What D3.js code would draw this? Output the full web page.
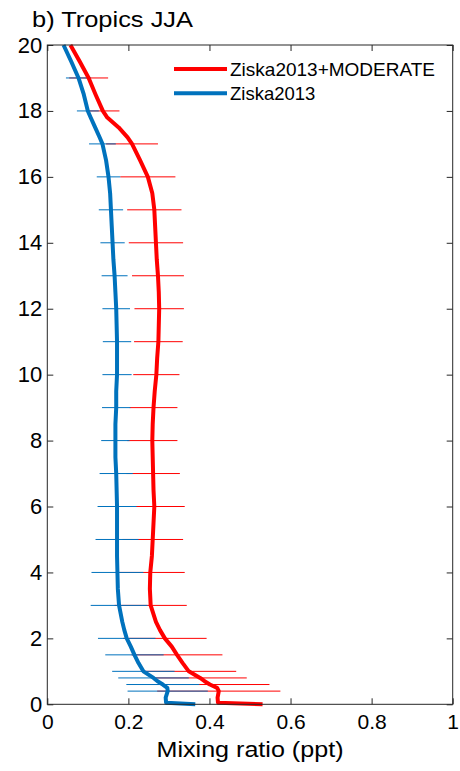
<!DOCTYPE html>
<html><head><meta charset="utf-8">
<script src="https://cdn.jsdelivr.net/npm/d3@7"></script>
<style>
body{margin:0;background:#fff}
text{font-family:"Liberation Sans",Arial,Helvetica,sans-serif;fill:#000}
</style>
</head><body>
<svg id="c" width="460" height="771"></svg>
<script>
// Altitude grid (km)
const altitudes = [0, 0.05, 0.2, 0.4, 0.5, 0.6, 0.7, 0.8, 1.0, 1.25, 1.5, 1.75, 2.0, 2.25, 2.5, 3.0, 3.5, 4.0, 4.5, 5.0, 5.5, 6.0, 6.5, 7.0, 7.5, 8.0, 8.5, 9.0, 9.5, 10, 10.5, 11, 11.5, 12, 12.5, 13, 13.5, 14, 14.5, 15, 15.5, 16, 16.5, 17, 17.2, 17.5, 17.8, 18, 18.5, 19, 19.5, 20];
// Ziska2013+MODERATE mixing ratio (ppt)
const moderate = [0.531, 0.421, 0.420, 0.423, 0.419, 0.401, 0.388, 0.377, 0.349, 0.334, 0.320, 0.307, 0.290, 0.278, 0.268, 0.255, 0.253, 0.254, 0.258, 0.260, 0.262, 0.264, 0.262, 0.261, 0.260, 0.259, 0.260, 0.262, 0.265, 0.269, 0.271, 0.274, 0.275, 0.276, 0.275, 0.273, 0.270, 0.268, 0.266, 0.264, 0.259, 0.248, 0.229, 0.209, 0.198, 0.176, 0.148, 0.137, 0.119, 0.102, 0.080, 0.057];
// Ziska2013 mixing ratio (ppt)
const ziska = [0.365, 0.293, 0.292, 0.297, 0.296, 0.285, 0.272, 0.262, 0.237, 0.225, 0.215, 0.206, 0.196, 0.190, 0.185, 0.177, 0.174, 0.173, 0.172, 0.172, 0.172, 0.172, 0.171, 0.170, 0.168, 0.168, 0.168, 0.170, 0.170, 0.172, 0.172, 0.172, 0.171, 0.170, 0.168, 0.166, 0.163, 0.161, 0.159, 0.157, 0.155, 0.151, 0.145, 0.136, 0.129, 0.118, 0.107, 0.100, 0.090, 0.077, 0.059, 0.040];
// Error bar levels (km) and half-widths (ppt)
const barLevels = [19, 18, 17, 16, 15, 14, 13, 12, 11, 10, 9, 8, 7, 6, 5, 4, 3, 2, 1.5, 1, 0.8, 0.6, 0.4];
const moderateErr = [0.048, 0.041, 0.064, 0.068, 0.067, 0.067, 0.064, 0.061, 0.060, 0.057, 0.059, 0.062, 0.066, 0.075, 0.075, 0.085, 0.089, 0.103, 0.112, 0.117, 0.115, 0.147, 0.152];
const ziskaErr = [0.031, 0.027, 0.033, 0.029, 0.030, 0.030, 0.032, 0.034, 0.035, 0.036, 0.035, 0.035, 0.041, 0.048, 0.053, 0.064, 0.070, 0.071, 0.072, 0.077, 0.087, 0.090, 0.099];
const xTicks = [0, 0.2, 0.4, 0.6, 0.8, 1];
const xTickLabels = ["0", "0.2", "0.4", "0.6", "0.8", "1"];
const yTicks = [0, 2, 4, 6, 8, 10, 12, 14, 16, 18, 20];
const seriesNames = ["Ziska2013+MODERATE", "Ziska2013"];
const seriesColors = ["#ff0000", "#0072bd"];

const svg = d3.select("#c");
const x = d3.scaleLinear().domain([0, 1]).range([47.3, 452.7]);
const y = d3.scaleLinear().domain([0, 20]).range([704.3, 45]);

// error bars: red first, blue on top
function drawBars(vals, errs, color) {
  const rows = barLevels.map((lv, i) => {
    const idx = altitudes.indexOf(lv);
    return {lv, c: vals[idx], e: errs[i]};
  });
  svg.append("g").selectAll("line").data(rows).join("line")
    .attr("x1", d => x(d.c - d.e)).attr("x2", d => x(d.c + d.e))
    .attr("y1", d => y(d.lv)).attr("y2", d => y(d.lv))
    .attr("stroke", color).attr("stroke-width", 1);
}
drawBars(moderate, moderateErr, seriesColors[0]);
drawBars(ziska, ziskaErr, seriesColors[1]);

const line = d3.line().x(d => x(d[0])).y(d => y(d[1]));
[moderate, ziska].forEach((vals, k) => {
  svg.append("path").datum(altitudes.map((a, i) => [vals[i], a]))
    .attr("d", line).attr("fill", "none")
    .attr("stroke", seriesColors[k]).attr("stroke-width", 4)
    .attr("stroke-linejoin", "round");
});

// axes (ticks inward, box)
const axColor = "#262626";
function styleAxis(g, fs) {
  g.select(".domain").remove();
  g.selectAll(".tick line").attr("stroke", axColor);
  g.selectAll(".tick text").style("font-size", fs + "px").attr("fill", "#000")
    .style("font-family", '"Liberation Sans", Arial, sans-serif');
}
svg.append("g").attr("transform", `translate(0,${y(0)})`)
  .call(d3.axisBottom(x).tickValues(xTicks).tickFormat((d, i) => xTickLabels[i]).tickSize(-6).tickPadding(10))
  .call(g => styleAxis(g, 21));
svg.append("g").attr("transform", `translate(0,${y(20)})`)
  .call(d3.axisTop(x).tickValues(xTicks).tickFormat("").tickSize(-6))
  .call(g => styleAxis(g, 21));
svg.append("g").attr("transform", `translate(${x(0)},0)`)
  .call(d3.axisLeft(y).tickValues(yTicks).tickSize(-6).tickPadding(5))
  .call(g => styleAxis(g, 22));
svg.append("g").attr("transform", `translate(${x(1)},0)`)
  .call(d3.axisRight(y).tickValues(yTicks).tickFormat("").tickSize(-6))
  .call(g => styleAxis(g, 22));
svg.append("rect").attr("x", x(0)).attr("y", y(20))
  .attr("width", x(1) - x(0)).attr("height", y(0) - y(20))
  .attr("fill", "none").attr("stroke", axColor).attr("stroke-width", 1);

// title and axis label
svg.append("text").attr("x", 32).attr("y", 27).style("font-size", "22.5px")
  .attr("textLength", 161).attr("lengthAdjust", "spacingAndGlyphs").text("b) Tropics JJA");
svg.append("text").attr("x", (x(0) + x(1)) / 2).attr("y", 757).attr("text-anchor", "middle")
  .style("font-size", "22.5px").attr("textLength", 187).attr("lengthAdjust", "spacingAndGlyphs")
  .text("Mixing ratio (ppt)");

// legend
const lg = svg.append("g");
seriesNames.forEach((n, i) => {
  const yy = 69 + i * 24.3;
  lg.append("line").attr("x1", 174).attr("x2", 227).attr("y1", yy).attr("y2", yy)
    .attr("stroke", seriesColors[i]).attr("stroke-width", 4);
  const t = lg.append("text").attr("x", 230).attr("y", yy + 7).style("font-size", "18.5px").text(n);
  if (i === 0) t.attr("textLength", 205).attr("lengthAdjust", "spacingAndGlyphs");
});
</script>
</body></html>
